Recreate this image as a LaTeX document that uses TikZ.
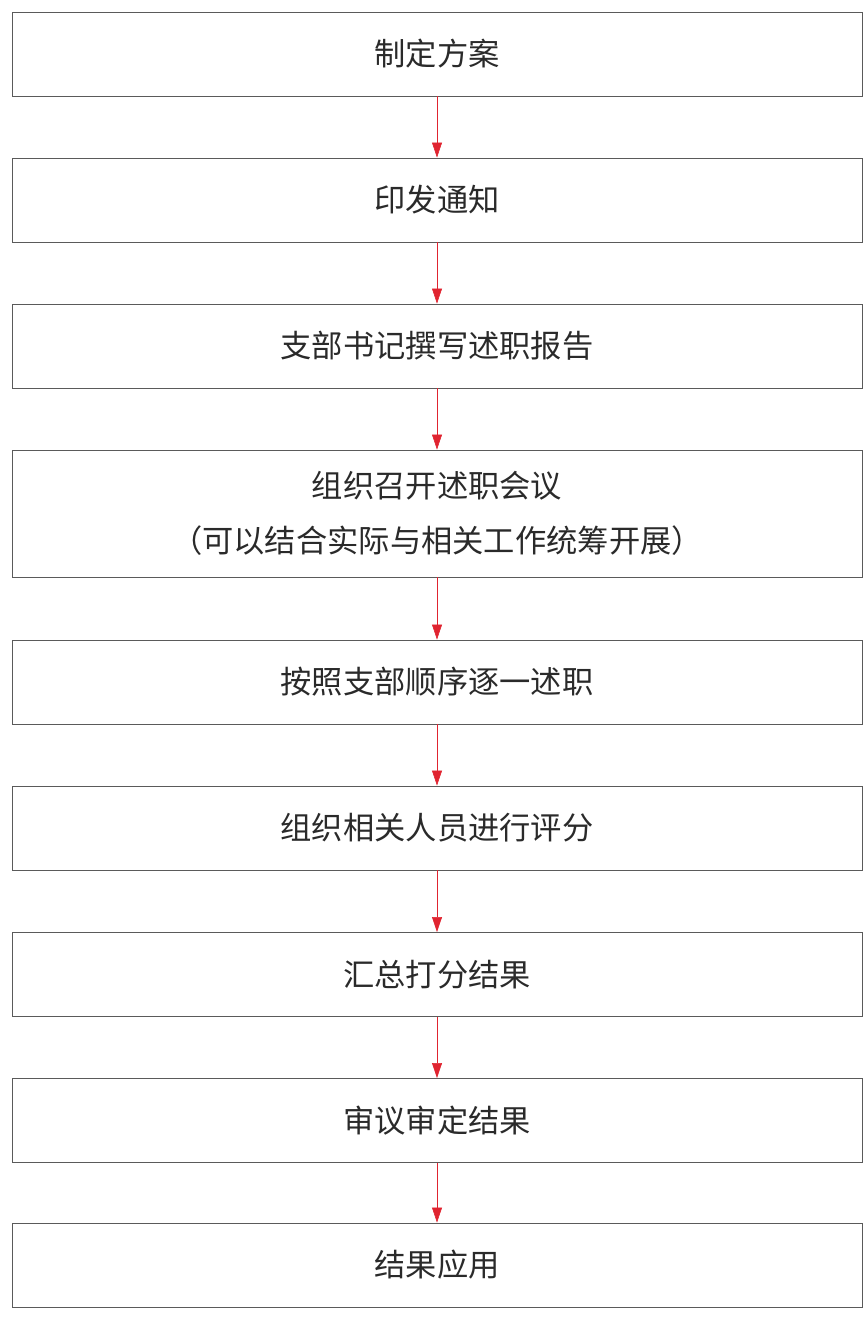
\documentclass[tikz,border=0pt]{standalone}
\usepackage{fontspec}
\newfontfamily\cjk{Noto Sans CJK SC}
\usepackage{tikz}
\usetikzlibrary{arrows.meta}
\definecolor{boxline}{HTML}{5A5A5A}
\definecolor{arrowred}{HTML}{E02430}
\definecolor{txt}{HTML}{2A2A2A}
\begin{document}
\begin{tikzpicture}[x=0.03cm,y=-0.03cm]
        \useasboundingbox (0,0) rectangle (867,1317);
        \tikzstyle{every node} = [rectangle, draw=boxline, line width=0.8pt, minimum width=25.5cm, minimum height=2.52cm, text=txt, font=\cjk\fontsize{26.7}{47}\selectfont, align=center, inner sep=0pt]
        \node (0) at (437,54) {制定方案};
        \node (1) at (437,200) {印发通知};
        \node (2) at (437,346) {支部书记撰写述职报告};
        \node[minimum height=3.81cm] (3) at (437,513.5) {组织召开述职会议\\（可以结合实际与相关工作统筹开展）};
        \node (4) at (437,682) {按照支部顺序逐一述职};
        \node (5) at (437,828) {组织相关人员进行评分};
        \node (6) at (437,974.5) {汇总打分结果};
        \node (7) at (437,1120.5) {审议审定结果};
        \node (8) at (437,1265) {结果应用};

        \foreach \from/\to in {0/1, 1/2, 2/3, 3/4, 4/5, 5/6, 6/7, 7/8}
            \draw[arrowred, line width=0.5pt, -{Triangle[width=0.3cm,length=0.45cm]}] (\from) -- (\to);
      \end{tikzpicture}
\end{document}
